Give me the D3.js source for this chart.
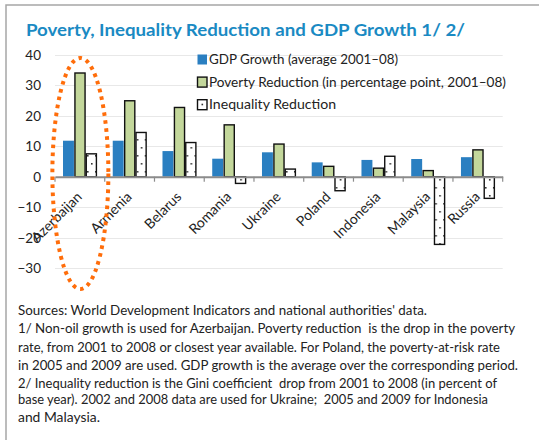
<!DOCTYPE html>
<html>
<head>
<meta charset="utf-8">
<script src="https://cdn.jsdelivr.net/npm/d3@7"></script>
<style>
  html, body { margin: 0; padding: 0; background: #fff; }
  svg { display: block; font-family: Lato, "Open Sans", sans-serif; }
  .note { white-space: pre; }
</style>
</head>
<body>
<svg id="chart" width="539" height="440"></svg>
<script>
// Countries along the x axis
const countries = ["Azerbaijan", "Armenia", "Belarus", "Romania", "Ukraine",
                   "Poland", "Indonesia", "Malaysia", "Russia"];

// Series values (percent / percentage points)
const gdpGrowth        = [11.8, 11.8, 8.4, 5.9, 8.0, 4.7, 5.5, 5.8, 6.4];
const povertyReduction = [34.0, 24.9, 22.7, 17.0, 10.7, 3.4, 2.8, 2.0, 8.8];
const inequalityRed    = [7.5, 14.5, 11.2, -2.2, 2.5, -4.6, 6.7, -22.2, -7.1];

const seriesKeys  = ["gdp", "poverty", "inequality"];
const seriesNames = ["GDP Growth (average 2001\u201308)",
                     "Poverty Reduction (in percentage point, 2001\u201308)",
                     "Inequality Reduction"];

const yTicks = [40, 30, 20, 10, 0, -10, -20, -30];

const titleText = "Poverty, Inequality Reduction and GDP Growth 1/ 2/";
const noteLines = [
  "Sources: World Development Indicators and national authorities' data.",
  "1/ Non-oil growth is used for Azerbaijan. Poverty reduction  is the drop in the poverty",
  "rate, from 2001 to 2008 or closest year available. For Poland, the poverty-at-risk rate",
  "in 2005 and 2009 are used. GDP growth is the average over the corresponding period.",
  "2/ Inequality reduction is the Gini coefficient  drop from 2001 to 2008 (in percent of",
  "base year). 2002 and 2008 data are used for Ukraine;  2005 and 2009 for Indonesia",
  "and Malaysia."
];

const rows = countries.map((c, i) => ({
  country: c,
  gdp: gdpGrowth[i],
  poverty: povertyReduction[i],
  inequality: inequalityRed[i]
}));

const svg = d3.select("#chart");

// dotted fill for the inequality bars
const defs = svg.append("defs");
const pat = defs.append("pattern")
  .attr("id", "dots").attr("patternUnits", "userSpaceOnUse")
  .attr("width", 8).attr("height", 16);
pat.append("rect").attr("width", 8).attr("height", 16).attr("fill", "#fff");
pat.append("rect").attr("x", 4).attr("y", 3).attr("width", 1.6).attr("height", 1.6).attr("fill", "#333");
pat.append("rect").attr("x", 0).attr("y", 11).attr("width", 1.6).attr("height", 1.6).attr("fill", "#333");

// frame
svg.append("path").attr("d", "M6,440 V5 H539")
  .attr("fill", "none").attr("stroke", "#a6a6a6").attr("stroke-width", 1.5);

// title
svg.append("text")
  .attr("x", 26).attr("y", 36)
  .attr("font-size", 17).attr("font-weight", 700)
  .attr("fill", "#1a8ac3")
  .attr("textLength", 439).attr("lengthAdjust", "spacingAndGlyphs")
  .text(titleText);

// scales
const x0 = d3.scaleBand().domain(countries).range([55, 502.7]).padding(0);
const x1 = d3.scaleBand().domain(seriesKeys).range([8, 42]).padding(0);
const y = d3.scaleLinear().domain([-30, 40]).range([268.2, 54.7]);

// gridlines
svg.append("g").selectAll("line")
  .data(yTicks.filter(t => t !== 0))
  .join("line")
  .attr("x1", 55).attr("x2", 502.7)
  .attr("y1", d => Math.round(y(d)) + 0.5).attr("y2", d => Math.round(y(d)) + 0.5)
  .attr("stroke", "#e8e8e8").attr("stroke-width", 1.2);

// y tick labels
const yAxis = d3.axisLeft(y).tickValues(yTicks).tickSize(0).tickPadding(0)
  .tickFormat(d3.format("d"));
const yg = svg.append("g").attr("transform", "translate(41,0)").call(yAxis);
yg.select(".domain").remove();
yg.selectAll("text").attr("font-size", 13.5).attr("fill", "#222")
  .attr("font-family", "Lato, sans-serif");

// bars
const fills = { gdp: "#2a7fc1", poverty: "#c3d79b", inequality: "url(#dots)" };
const strokes = { gdp: "none", poverty: "#111", inequality: "#111" };

const groups = svg.append("g").selectAll("g")
  .data(rows)
  .join("g")
  .attr("transform", d => `translate(${x0(d.country)},0)`);

groups.selectAll("rect")
  .data(d => seriesKeys.map(k => ({ key: k, value: d[k] })))
  .join("rect")
  .attr("x", d => x1(d.key) + (d.key === "gdp" ? 0 : 0.6))
  .attr("width", d => x1.bandwidth() - (d.key === "gdp" ? 0.4 : 1.2))
  .attr("y", d => y(Math.max(0, d.value)))
  .attr("height", d => Math.abs(y(d.value) - y(0)))
  .attr("fill", d => fills[d.key])
  .attr("stroke", d => strokes[d.key])
  .attr("stroke-width", 1.4);

// zero axis with category ticks
const xAxis = d3.axisBottom(x0).tickSize(0).tickFormat("");
const xg = svg.append("g").attr("transform", `translate(0,${y(0)})`).call(xAxis);
xg.select(".domain").attr("stroke", "#8c8c8c").attr("stroke-width", 2);
xg.selectAll(".tick").remove();
xg.selectAll("line.sep")
  .data(countries.concat(["end"]))
  .join("line")
  .attr("class", "sep")
  .attr("x1", (d, i) => i < countries.length ? x0(d) : x0.range()[1])
  .attr("x2", (d, i) => i < countries.length ? x0(d) : x0.range()[1])
  .attr("y1", 0).attr("y2", 5)
  .attr("stroke", "#8c8c8c").attr("stroke-width", 1.2);

// category labels, rotated
svg.append("g").selectAll("text")
  .data(countries)
  .join("text")
  .attr("transform", d => `translate(${x0(d) + x0.bandwidth() / 2 + 3},${y(0) + 21}) rotate(-45)`)
  .attr("text-anchor", "end")
  .attr("font-size", 14).attr("fill", "#222")
  .text(d => d);

// legend
const legend = svg.append("g").selectAll("g")
  .data(seriesKeys)
  .join("g")
  .attr("transform", (d, i) => `translate(197,${54 + i * 22.6})`);
legend.append("rect")
  .attr("x", 0.5).attr("y", 0.5).attr("width", 9.5).attr("height", 10)
  .attr("fill", d => d === "inequality" ? "#fff" : fills[d])
  .attr("stroke", d => strokes[d]).attr("stroke-width", 1.4);
legend.filter(d => d === "inequality").append("rect")
  .attr("x", 4.5).attr("y", 4.5).attr("width", 1.6).attr("height", 1.6).attr("fill", "#333");
const legendWidths = [189, 297, 127];
legend.append("text")
  .attr("x", 12).attr("y", 10)
  .attr("font-size", 13.5).attr("fill", "#222")
  .attr("textLength", (d, i) => legendWidths[i]).attr("lengthAdjust", "spacingAndGlyphs")
  .text((d, i) => seriesNames[i]);

// highlight around Azerbaijan
svg.append("ellipse")
  .attr("cx", x0("Azerbaijan") + x0.bandwidth() / 2 + 0.5)
  .attr("cy", 173.5).attr("rx", 28).attr("ry", 115.5)
  .attr("fill", "none").attr("stroke", "#ff6d0a")
  .attr("stroke-width", 4).attr("stroke-dasharray", "3.6 4.4");

// notes
const noteWidths = [409, 497, 482, 500, 479, 470, 82];
const noteY = [315, 333.3, 351.6, 369.9, 388, 404.3, 422];
svg.append("g").selectAll("text")
  .data(noteLines)
  .join("text")
  .attr("class", "note")
  .attr("x", 18).attr("y", (d, i) => noteY[i])
  .attr("font-size", 13).attr("fill", "#222")
  .attr("textLength", (d, i) => noteWidths[i]).attr("lengthAdjust", "spacingAndGlyphs")
  .text(d => d);
</script>
</body>
</html>
